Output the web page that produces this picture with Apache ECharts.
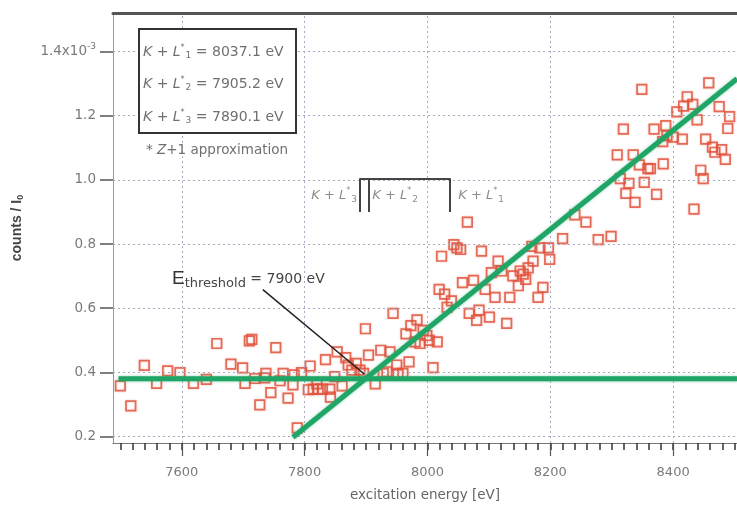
<!DOCTYPE html>
<html><head><meta charset="utf-8">
<script src="https://cdn.jsdelivr.net/npm/echarts@6/dist/echarts.min.js"></script>
<style>html,body{margin:0;padding:0;background:#fff}#c{width:737px;height:507px}</style>
</head><body><div id="c"></div>
<script>
// ---- data ----
const energy = [7500,7517,7539,7559,7577,7597,7619,7640,7657,7680,7699,7703,7710,7714,7719,7727,7735,7737,7745,7753,7760,7765,7773,7781,7783,7788,7795,7806,7809,7814,7820,7822,7829,7834,7841,7842,7849,7853,7861,7867,7871,7877,7884,7890,7896,7899,7904,7915,7924,7928,7934,7939,7944,7950,7952,7960,7965,7970,7973,7980,7983,7988,7993,7999,8003,8009,8016,8019,8023,8028,8032,8039,8043,8048,8054,8057,8065,8068,8075,8080,8084,8088,8094,8101,8104,8110,8115,8121,8129,8134,8139,8148,8151,8156,8160,8164,8170,8172,8180,8183,8188,8197,8199,8220,8240,8258,8278,8299,8309,8314,8319,8323,8328,8335,8338,8345,8349,8353,8359,8363,8369,8373,8383,8384,8388,8390,8400,8406,8415,8417,8423,8432,8434,8439,8445,8449,8453,8458,8464,8468,8475,8479,8485,8489,8492];
const counts = [0.358,0.296,0.422,0.366,0.405,0.399,0.366,0.378,0.490,0.426,0.414,0.366,0.498,0.503,0.381,0.299,0.383,0.397,0.337,0.477,0.374,0.397,0.320,0.361,0.392,0.227,0.399,0.346,0.420,0.348,0.364,0.348,0.348,0.440,0.348,0.323,0.387,0.464,0.358,0.446,0.423,0.407,0.428,0.407,0.397,0.536,0.454,0.364,0.469,0.397,0.402,0.464,0.584,0.423,0.397,0.397,0.520,0.433,0.546,0.495,0.564,0.490,0.531,0.515,0.500,0.415,0.495,0.659,0.762,0.644,0.603,0.623,0.798,0.788,0.783,0.680,0.868,0.584,0.687,0.562,0.594,0.778,0.659,0.572,0.711,0.634,0.747,0.716,0.553,0.634,0.701,0.670,0.716,0.706,0.690,0.726,0.793,0.747,0.634,0.788,0.665,0.788,0.752,0.817,0.891,0.868,0.814,0.824,1.078,1.004,1.158,0.958,0.989,1.078,0.930,1.047,1.282,0.992,1.035,1.035,1.158,0.955,1.119,1.050,1.169,1.138,1.133,1.212,1.127,1.230,1.259,1.235,0.909,1.187,1.030,1.004,1.127,1.302,1.102,1.086,1.228,1.094,1.064,1.160,1.197];
const xTickLabels = [7600,7800,8000,8200,8400];
const yTickLabels = [0.2,0.4,0.6,0.8,1.0,1.2,1.4];
const levelNames = ['1','2','3'];
const levelEnergies = [8037.1,7905.2,7890.1];
const thresholdEnergy = 7900;
const baseLine = [[7497,0.38],[8504,0.38]];
const riseLine = [[7781,0.198],[8504,1.315]];
const arrowFrom = [7732,0.658];
const arrowTo = [7897,0.395];

// ---- layout constants ----
const X_MIN = 7488, X_MAX = 8504, Y_MIN = 0.18, Y_MAX = 1.52;
const BR_TOP = 1.005, BR_BOT = 0.9, BR_LABEL = 0.952;
const minorTicks = [];
for (let v = 7500; v <= 8500; v += 20) minorTicks.push(v);

const points = energy.map((e, i) => [e, counts[i]]);
const gray = '#707070';
const font = '"DejaVu Sans", sans-serif';
const font2 = '"Liberation Sans", Arial, sans-serif';

function makeRich(size) {
  const s = (o) => Object.assign({color: gray, fill: gray, fontFamily: font}, o);
  return {
    i: s({fontStyle: 'italic', fontSize: size}),
    n: s({fontSize: size}),
    st: s({fontSize: 8, verticalAlign: 'top', padding: [0, 0, 8, 0]}),
    sb: s({fontSize: 9, verticalAlign: 'bottom', padding: [8, 0, 0, 1]})
  };
}
const richLabel = makeRich(13);
const richBox = makeRich(14);
function klText(n, val) {
  return '{i|K}{n| + }{i|L}{st|*}{sb|' + n + '}' + (val ? '{n| = ' + val.toFixed(1) + ' eV}' : '');
}

const chart = echarts.init(document.getElementById('c'), null, {renderer: 'canvas'});
const bracketLines = [];
levelEnergies.forEach(e => bracketLines.push([{coord: [e, BR_BOT]}, {coord: [e, BR_TOP]}]));
bracketLines.push([{coord: [Math.min(...levelEnergies), BR_TOP]}, {coord: [Math.max(...levelEnergies), BR_TOP]}]);

const option = {
  backgroundColor: '#fff',
  animation: false,
  grid: {left: 113, top: 13, right: 0, bottom: 60, containLabel: false},
  xAxis: [
    {type: 'value', min: X_MIN, max: X_MAX, position: 'bottom',
     axisLine: {show: true, lineStyle: {color: '#777', width: 1}},
     axisTick: {show: true, customValues: minorTicks, length: 7, lineStyle: {color: '#333', width: 1.5}},
     axisLabel: {show: false}, splitLine: {show: false}},
    {type: 'value', min: X_MIN, max: X_MAX, position: 'bottom',
     axisLine: {show: false},
     axisTick: {show: true, customValues: xTickLabels, length: 13, lineStyle: {color: '#555', width: 1.2}},
     axisLabel: {show: true, customValues: xTickLabels, margin: 23, color: '#7a7a7a', fontSize: 13, fontFamily: font,
       formatter: v => String(v)},
     splitLine: {show: false},
     name: 'excitation energy [eV]', nameLocation: 'middle', nameGap: 45,
     nameTextStyle: {color: '#666', fontSize: 13.5, fontFamily: font}},
    {type: 'value', min: X_MIN, max: X_MAX, position: 'top',
     axisLine: {show: true, lineStyle: {color: '#555', width: 3}},
     axisTick: {show: false}, axisLabel: {show: false}, splitLine: {show: false}}
  ],
  yAxis: {
    type: 'value', min: Y_MIN, max: Y_MAX,
    axisLine: {show: true, lineStyle: {color: '#999', width: 1}},
    axisTick: {show: true, customValues: yTickLabels, length: 13, lineStyle: {color: '#555', width: 1.5}},
    axisLabel: {show: true, customValues: yTickLabels, margin: 17, color: '#7a7a7a', fontSize: 13.5, fontFamily: font,
      formatter: v => Math.abs(v - 1.4) < 1e-6 ? '1.4x10{sup|-3}' : v.toFixed(1),
      rich: {sup: {fontSize: 9, color: '#7a7a7a', verticalAlign: 'top', padding: [0, 0, 10, 0], fontFamily: font}}},
    splitLine: {show: false},
    name: 'counts / I{sub|0}', nameLocation: 'middle', nameGap: 88, nameRotate: 90,
    nameTextStyle: {color: '#444', fontSize: 14, fontWeight: 'bold', fontFamily: font2,
      rich: {sub: {fontSize: 9, color: '#444', verticalAlign: 'bottom', padding: [7, 0, 0, 0], fontWeight: 'bold', fontFamily: font2}}}
  },
  series: [
    {type: 'scatter', name: 'data', data: points, symbol: 'rect', symbolSize: 9.5, z: 2,
     itemStyle: {color: 'rgba(255,255,255,0)', borderColor: '#e0503a', borderWidth: 1.7, shadowBlur: 2, shadowColor: 'rgba(224,80,58,0.5)'},
     markLine: {silent: true, symbol: 'none', animation: false, label: {show: false},
       lineStyle: {color: '#a7a9c0', type: [2, 3], width: 1},
       data: xTickLabels.map(v => ({xAxis: v})).concat(yTickLabels.map(v => ({yAxis: v})))}},
    {type: 'line', name: 'base', data: baseLine, showSymbol: false, z: 5,
     lineStyle: {color: '#1fa565', width: 5, shadowBlur: 3, shadowColor: 'rgba(31,165,101,0.5)'}},
    {type: 'line', name: 'rise', data: riseLine, showSymbol: false, z: 5,
     lineStyle: {color: '#1fa565', width: 5, shadowBlur: 3, shadowColor: 'rgba(31,165,101,0.5)'}},
    {type: 'scatter', name: 'levels', z: 6, symbolSize: 0,
     data: levelEnergies.map((e, i) => ({
       value: [e, BR_LABEL],
       label: {show: true, formatter: klText(levelNames[i]), rich: richLabel,
         position: i === 2 ? 'left' : 'right', distance: i === 0 ? 8 : 3}
     })),
     markLine: {silent: true, symbol: 'none', label: {show: false},
       lineStyle: {color: '#444', type: 'solid', width: 2}, data: bracketLines}},
    {type: 'scatter', name: 'threshold', z: 7, symbolSize: 0, data: [[thresholdEnergy, 0.38]],
     markLine: {silent: true, symbol: ['none', 'arrow'], symbolSize: [0, 11], label: {show: false},
       lineStyle: {color: '#222', type: 'solid', width: 1.5},
       data: [[{coord: arrowFrom}, {coord: arrowTo}]]}}
  ],
  graphic: [
    {type: 'rect', shape: {x: 139, y: 29, width: 157, height: 104}, style: {fill: '#fff', stroke: '#333', lineWidth: 2}, z: 20},
    {type: 'text', x: 143, y: 52, style: {text: klText('1', 8037.1), rich: richBox, verticalAlign: 'middle'}, z: 21},
    {type: 'text', x: 143, y: 84, style: {text: klText('2', 7905.2), rich: richBox, verticalAlign: 'middle'}, z: 21},
    {type: 'text', x: 143, y: 117, style: {text: klText('3', 7890.1), rich: richBox, verticalAlign: 'middle'}, z: 21},
    {type: 'text', x: 146, y: 150, style: {text: '{n|* }{i|Z}{n|+1 approximation}', rich: makeRich(13.5), verticalAlign: 'middle'}, z: 21},
    {type: 'text', x: 172, y: 279, style: {text: '{E|E}{s|threshold}{t| = ' + thresholdEnergy + ' eV}', verticalAlign: 'middle',
      rich: {E: {fontSize: 19, fill: '#333', fontFamily: font2},
             s: {fontSize: 13, fill: '#444', verticalAlign: 'bottom', padding: [10, 0, 0, 0], fontFamily: font},
             t: {fontSize: 14, fill: '#444', fontFamily: font}}}, z: 21}
  ]
};
chart.setOption(option);
</script></body></html>
